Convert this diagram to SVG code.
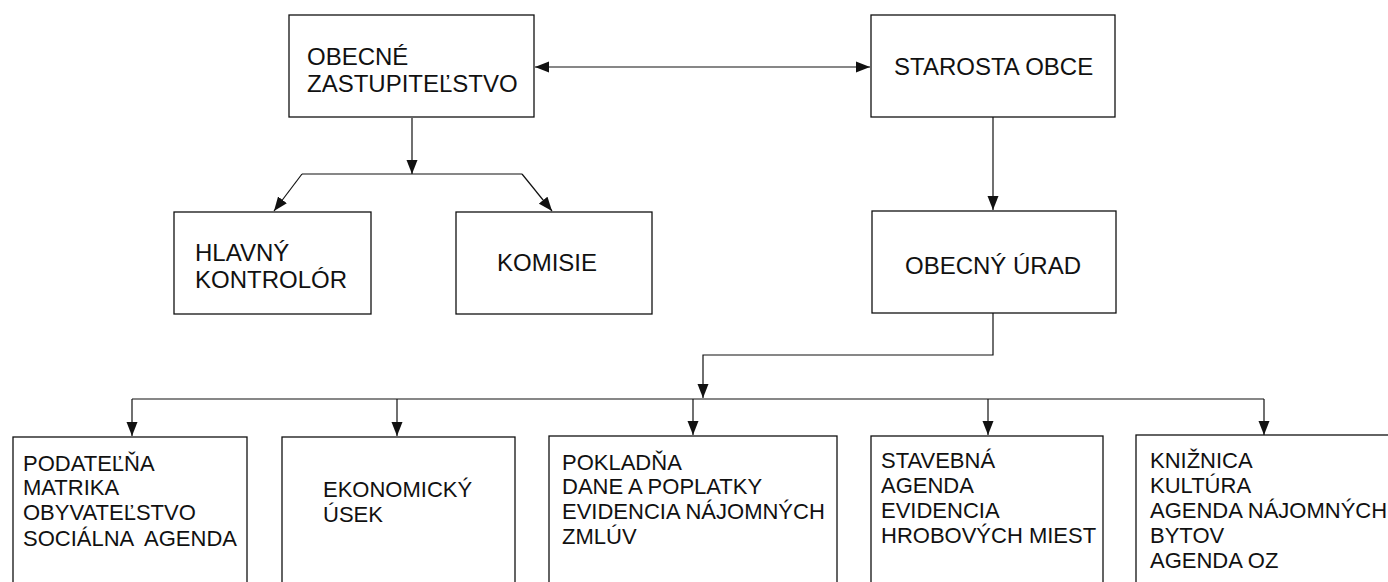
<svg xmlns="http://www.w3.org/2000/svg" width="1388" height="582" viewBox="0 0 1388 582">
<style>
.box{fill:#fff;stroke:#111;stroke-width:1.3}
.t{font-family:"Liberation Sans",Arial,sans-serif;fill:#111}
.up{font-size:24px}
.lo{font-size:22px}
.c{fill:none;stroke:#111;stroke-width:1.2}
</style>
<defs>
<marker id="ah" markerWidth="14" markerHeight="12" viewBox="0 0 14 12" refX="14" refY="6" orient="auto" markerUnits="userSpaceOnUse">
<path d="M0,0.5 L14,6 L0,11.5 Z" fill="#111"/>
</marker>
<marker id="as" markerWidth="14" markerHeight="12" viewBox="0 0 14 12" refX="0" refY="6" orient="auto" markerUnits="userSpaceOnUse">
<path d="M14,0.5 L0,6 L14,11.5 Z" fill="#111"/>
</marker>
</defs>
<rect width="1388" height="582" fill="#fff"/>
<g id="connectors">
<line class="c" x1="535" y1="67" x2="870" y2="67" marker-start="url(#as)" marker-end="url(#ah)"/>
<line class="c" x1="412" y1="118" x2="412" y2="174" marker-end="url(#ah)"/>
<path class="c" d="M302,174 H522"/>
<line class="c" x1="302" y1="174" x2="274" y2="211" marker-end="url(#ah)"/>
<line class="c" x1="522" y1="174" x2="552" y2="211" marker-end="url(#ah)"/>
<line class="c" x1="993" y1="117" x2="993" y2="210" marker-end="url(#ah)"/>
<path class="c" d="M993,313 V355 H703 V398" marker-end="url(#ah)"/>
<path class="c" d="M132,399 H1264"/>
<line class="c" x1="132" y1="399" x2="132" y2="436" marker-end="url(#ah)"/>
<line class="c" x1="397" y1="399" x2="397" y2="436" marker-end="url(#ah)"/>
<line class="c" x1="693" y1="399" x2="693" y2="435" marker-end="url(#ah)"/>
<line class="c" x1="988" y1="399" x2="988" y2="435" marker-end="url(#ah)"/>
<line class="c" x1="1264" y1="399" x2="1264" y2="435" marker-end="url(#ah)"/>
</g>
<g id="oz">
<rect class="box" x="289" y="15" width="245" height="102"/>
<text class="t up" x="307" y="65">OBECNÉ</text>
<text class="t up" x="307" y="92">ZASTUPITEĽSTVO</text>
</g>
<g id="starosta">
<rect class="box" x="871" y="15" width="244" height="102"/>
<text class="t up" x="894" y="75">STAROSTA OBCE</text>
</g>
<g id="hlavny">
<rect class="box" x="174" y="212" width="197" height="102"/>
<text class="t up" x="195" y="261">HLAVNÝ</text>
<text class="t up" x="195" y="288">KONTROLÓR</text>
</g>
<g id="komisie">
<rect class="box" x="456" y="212" width="196" height="102"/>
<text class="t up" x="497" y="271">KOMISIE</text>
</g>
<g id="urad">
<rect class="box" x="872" y="211" width="244" height="102"/>
<text class="t up" x="905" y="274">OBECNÝ ÚRAD</text>
</g>
<g id="b1">
<rect class="box" x="13" y="437" width="234" height="160"/>
<text class="t lo" x="23" y="471">PODATEĽŇA</text>
<text class="t lo" x="23" y="495">MATRIKA</text>
<text class="t lo" x="23" y="520">OBYVATEĽSTVO</text>
<text class="t lo" x="23" y="546" xml:space="preserve">SOCIÁLNA  AGENDA</text>
</g>
<g id="b2">
<rect class="box" x="282" y="437" width="233" height="160"/>
<text class="t lo" x="323" y="497">EKONOMICKÝ</text>
<text class="t lo" x="323" y="522">ÚSEK</text>
</g>
<g id="b3">
<rect class="box" x="549" y="436" width="288" height="160"/>
<text class="t lo" x="562" y="470">POKLADŇA</text>
<text class="t lo" x="562" y="494">DANE A POPLATKY</text>
<text class="t lo" x="562" y="519">EVIDENCIA NÁJOMNÝCH</text>
<text class="t lo" x="562" y="544">ZMLÚV</text>
</g>
<g id="b4">
<rect class="box" x="871" y="436" width="232" height="160"/>
<text class="t lo" x="881" y="468">STAVEBNÁ</text>
<text class="t lo" x="881" y="493">AGENDA</text>
<text class="t lo" x="881" y="518">EVIDENCIA</text>
<text class="t lo" x="881" y="543">HROBOVÝCH MIEST</text>
</g>
<g id="b5">
<rect class="box" x="1136" y="435" width="260" height="160"/>
<text class="t lo" x="1150" y="468">KNIŽNICA</text>
<text class="t lo" x="1150" y="493">KULTÚRA</text>
<text class="t lo" x="1150" y="518">AGENDA NÁJOMNÝCH</text>
<text class="t lo" x="1150" y="543">BYTOV</text>
<text class="t lo" x="1150" y="568">AGENDA OZ</text>
</g>
</svg>
